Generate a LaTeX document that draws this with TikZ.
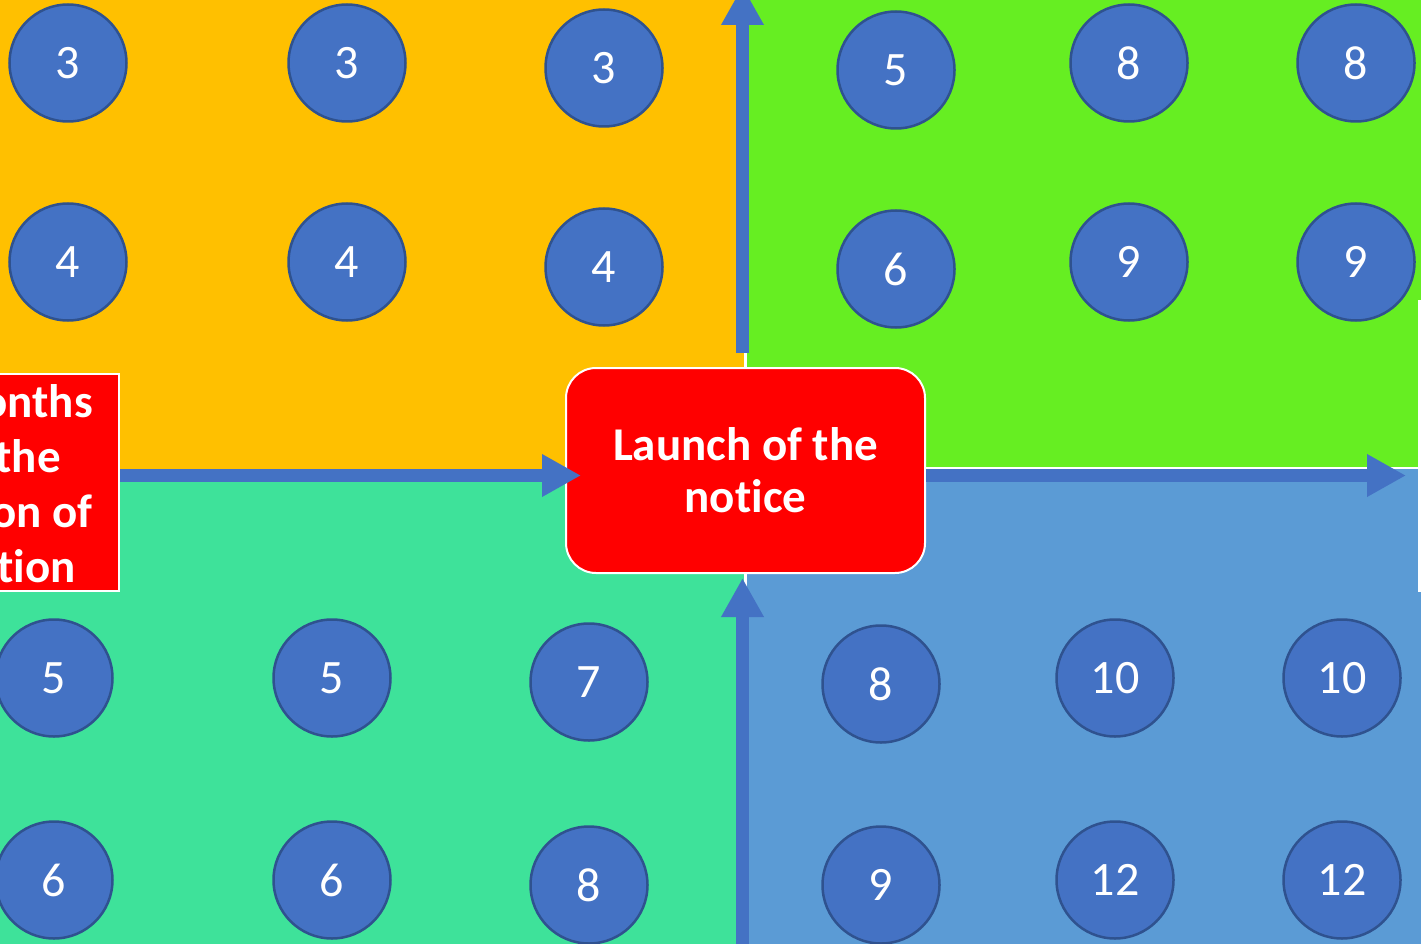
\documentclass[tikz,border=0pt]{standalone}
\usepackage{fontspec}
\setmainfont{Carlito}[RawFeature=-liga]
\usetikzlibrary{arrows.meta}
\definecolor{qorange}{HTML}{FFC000}
\definecolor{qlime}{HTML}{66EE22}
\definecolor{qteal}{HTML}{3EE29A}
\definecolor{qsteel}{HTML}{5B9BD5}
\definecolor{cblue}{HTML}{4472C4}
\definecolor{cedge}{HTML}{2F528F}
\definecolor{bred}{HTML}{FF0000}
\begin{document}
\begin{tikzpicture}[x=1pt,y=-1pt,
 num/.style={circle, minimum size=117pt, inner sep=0pt, fill=cblue, draw=cedge, line width=2.5pt, text=white, font=\fontsize{48}{48}\selectfont},
 flow/.style={draw=cblue, line width=13pt, -{Triangle[width=40pt,length=39pt]}},
 redbox/.style={fill=bred, draw=white, line width=2pt, text=white, font=\bfseries\fontsize{47}{52}\selectfont, align=center}]
\useasboundingbox (0,0) rectangle (1421,944);
\clip (0,0) rectangle (1421,944);
\fill[white] (0,0) rectangle (1421,944);
\fill[qorange] (0,0) rectangle (744,469);
\fill[qlime] (747,0) rectangle (1421,467);
\fill[qteal] (0,469) rectangle (744,944);
\fill[qsteel] (747,469) rectangle (1421,944);
\fill[white] (1418,300) rectangle (1425,592);
% orange quadrant
\node[num] (o1) at (68,63) {3};
\node[num] (o2) at (347,63) {3};
\node[num] (o3) at (604,68) {3};
\node[num] (o4) at (68,262) {4};
\node[num] (o5) at (347,262) {4};
\node[num] (o6) at (604,267) {4};
% lime quadrant
\node[num] (l1) at (896,70) {5};
\node[num] (l2) at (1129,63) {8};
\node[num] (l3) at (1356,63) {8};
\node[num] (l4) at (896,269) {6};
\node[num] (l5) at (1129,262) {9};
\node[num] (l6) at (1356,262) {9};
% teal quadrant
\node[num] (t1) at (54,678) {5};
\node[num] (t2) at (332,678) {5};
\node[num] (t3) at (589,682) {7};
\node[num] (t4) at (54,880) {6};
\node[num] (t5) at (332,880) {6};
\node[num] (t6) at (589,885) {8};
% steel quadrant
\node[num] (s1) at (881,684) {8};
\node[num] (s2) at (1115,678) {10};
\node[num] (s3) at (1342,678) {10};
\node[num] (s4) at (881,885) {9};
\node[num] (s5) at (1115,880) {12};
\node[num] (s6) at (1342,880) {12};
% boxes
\node[redbox, rounded corners=30pt, minimum width=359pt, minimum height=205pt, inner sep=0pt] (launch) at (745.5,470.5) {Launch of the\\notice};
\node[redbox, anchor=east, minimum width=300pt, minimum height=217pt, inner sep=0pt] (prev) at (120,482.5) {};
\node[text=white, font=\bfseries\fontsize{47}{55}\selectfont, align=right, anchor=north east, inner sep=0pt] (prevtext) at (93,384) {onths\\the\rule{32pt}{0pt}\\on of\\tion\rule{17pt}{0pt}};
% arrows
\coordinate (topstart) at (742.5,353);
\coordinate (topend) at (742.5,-14);
\coordinate (lefttip) at (581,475.5);
\coordinate (righttip) at (1406,475.5);
\coordinate (botstart) at (742.5,960);
\coordinate (bottip) at (742.5,578);
\draw[flow] (topstart) -- (topend);
\draw[flow] ([yshift=7pt]prev.east) -- (lefttip);
\draw[flow] (launch.east |- righttip) -- (righttip);
\draw[flow] (botstart) -- (bottip);
\end{tikzpicture}
\end{document}
